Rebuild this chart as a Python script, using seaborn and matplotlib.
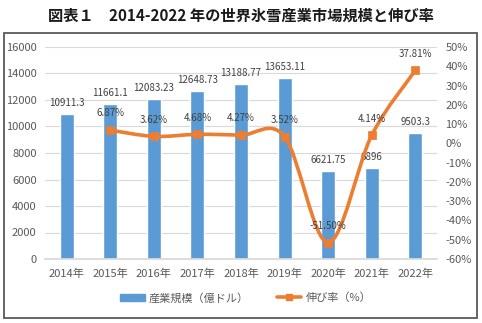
import numpy as np
import pandas as pd
import matplotlib
matplotlib.use("Agg")
import matplotlib.pyplot as plt
import seaborn as sns
from matplotlib.path import Path
from matplotlib.patches import PathPatch, Rectangle, Patch
from matplotlib.lines import Line2D

years = ["2014年", "2015年", "2016年", "2017年", "2018年", "2019年", "2020年", "2021年", "2022年"]
market_size = [10911.3, 11661.1, 12083.23, 12648.73, 13188.77, 13653.11, 6621.75, 6896, 9503.3]
size_labels = ["10911.3", "11661.1", "12083.23", "12648.73", "13188.77", "13653.11", "6621.75", "6896", "9503.3"]
growth = [None, 6.87, 3.62, 4.68, 4.27, 3.52, -51.50, 4.14, 37.81]
growth_labels = ["", "6.87%", "3.62%", "4.68%", "4.27%", "3.52%", "-51.50%", "4.14%", "37.81%"]
left_ticks = [0, 2000, 4000, 6000, 8000, 10000, 12000, 14000, 16000]
right_ticks = [-60, -50, -40, -30, -20, -10, 0, 10, 20, 30, 40, 50]
title = "図表１　2014-2022 年の世界氷雪産業市場規模と伸び率"
legend_labels = ["産業規模（億ドル）", "伸び率（%）"]

BLUE = "#5B9BD5"
ORANGE = "#ED7D31"
GRAY = "#595959"

sns.set_theme(style="white")
plt.rcParams["font.family"] = ["Noto Sans CJK JP", "DejaVu Sans"]

W, H = 482, 323
fig = plt.figure(figsize=(W / 100, H / 100), dpi=100)
ax = fig.add_axes([45 / W, 64 / H, 392 / W, 212 / H])

df = pd.DataFrame({"year": years, "size": market_size})
sns.barplot(data=df, x="year", y="size", color=BLUE, width=0.32, ax=ax, saturation=1)
ax.set_ylim(0, 16000)
ax.set_xlim(-0.5, len(years) - 0.5)
ax.set_yticks(left_ticks)
ax.set_yticklabels([str(t) for t in left_ticks])
ax.grid(axis="y", color="#D9D9D9", lw=0.8)
ax.set_axisbelow(True)
ax.set_xlabel("")
ax.set_ylabel("")
for s in ["left", "right", "top"]:
    ax.spines[s].set_visible(False)
ax.spines["bottom"].set_color("#D9D9D9")
ax.tick_params(axis="both", length=0, labelsize=8, colors=GRAY, pad=6)
ax.tick_params(axis="x", pad=7)

for i, (v, lab) in enumerate(zip(market_size, size_labels)):
    ax.annotate(lab, (i, v), xytext=(0, 8), textcoords="offset points",
                ha="center", va="center", fontsize=7, color="#404040")

ax2 = ax.twinx()
ax2.set_ylim(-60, 50)
ax2.set_yticks(right_ticks)
ax2.set_yticklabels([f"{t}%" for t in right_ticks])
ax2.tick_params(axis="y", length=0, labelsize=8, colors=GRAY, pad=6)
for s in ax2.spines.values():
    s.set_visible(False)
ax2.grid(False)

# smoothed line (Catmull-Rom -> Bezier) through the data points
xs = [i for i, g in enumerate(growth) if g is not None]
ys = [g for g in growth if g is not None]
pts = np.array(list(zip(xs, ys)), dtype=float)
verts = [tuple(pts[0])]
codes = [Path.MOVETO]
n = len(pts)
for i in range(n - 1):
    p0 = pts[i - 1] if i > 0 else pts[i]
    p1 = pts[i]
    p2 = pts[i + 1]
    p3 = pts[i + 2] if i + 2 < n else pts[i + 1]
    c1 = p1 + (p2 - p0) / 6.0
    c2 = p2 - (p3 - p1) / 6.0
    verts += [tuple(c1), tuple(c2), tuple(p2)]
    codes += [Path.CURVE4, Path.CURVE4, Path.CURVE4]
ax2.add_patch(PathPatch(Path(verts, codes), fill=False, edgecolor=ORANGE, lw=2.6,
                        capstyle="round", joinstyle="round"))
gdf = pd.DataFrame({"x": xs, "g": ys})
sns.scatterplot(data=gdf, x="x", y="g", marker="s", s=40, color=ORANGE,
                edgecolor=ORANGE, ax=ax2, zorder=5)
ax2.set_xlabel("")
ax2.set_ylabel("")
ax2.set_xlim(-0.5, len(years) - 0.5)

for i, (g, lab) in enumerate(zip(growth, growth_labels)):
    if g is None:
        continue
    ax2.annotate(lab, (i, g), xytext=(0, 12), textcoords="offset points",
                 ha="center", va="center", fontsize=7, color="#404040")

fig.text(0.5, 1 - 16 / H, title, ha="center", va="center", fontsize=11,
         fontweight="bold", color="#1a1a1a")

fig.patches.append(Rectangle((4 / W, 1 - 318 / H), 473 / W, 285 / H,
                             transform=fig.transFigure, fill=False,
                             edgecolor=GRAY, lw=1.3, zorder=10))

handles = [Patch(color=BLUE),
           Line2D([0], [0], color=ORANGE, lw=2.6, marker="s", markersize=5)]
fig.legend(handles, legend_labels, loc="center", bbox_to_anchor=(0.51, 1 - 298 / H),
           ncol=2, frameon=False, fontsize=8, labelcolor=GRAY,
           handlelength=2.2, columnspacing=2.5, handletextpad=0.4)

fig.savefig("out.png", dpi=100)
